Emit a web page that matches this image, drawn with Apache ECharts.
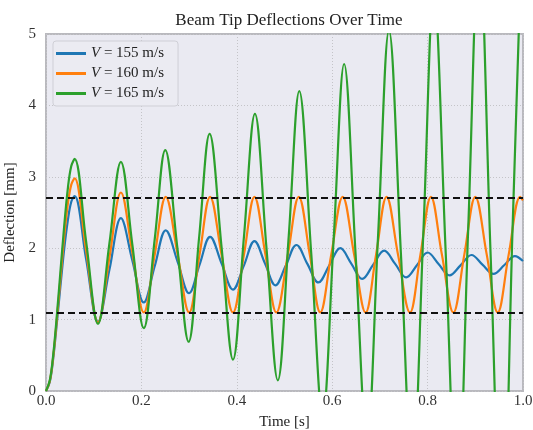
<!DOCTYPE html>
<html>
<head>
<meta charset="utf-8">
<script src="https://cdn.jsdelivr.net/npm/echarts@6/dist/echarts.min.js"></script>
<style>
  html, body { margin: 0; padding: 0; background: #fff; }
  #chart { width: 533px; height: 430px; }
</style>
</head>
<body>
<div id="chart"></div>
<script>
// values: [time s, deflection mm]
var seriesNames = ['V = 155 m/s', 'V = 160 m/s', 'V = 165 m/s'];
var seriesColors = ['#1f77b4', '#ff7f0e', '#2ca02c'];

var v155 = [
  [0, 0], [0.008, 0.13], [0.015, 0.45], [0.022, 0.9], [0.030, 1.45], [0.038, 1.98],
  [0.046, 2.4], [0.053, 2.65], [0.060, 2.73], [0.084, 1.85], [0.109, 0.97],
  [0.133, 1.70], [0.157, 2.42], [0.181, 1.83], [0.205, 1.24], [0.228, 1.75],
  [0.251, 2.25], [0.276, 1.81], [0.300, 1.37], [0.322, 1.77], [0.344, 2.16],
  [0.368, 1.79], [0.392, 1.42], [0.415, 1.76], [0.437, 2.10], [0.459, 1.79],
  [0.481, 1.48], [0.503, 1.76], [0.525, 2.045], [0.548, 1.78], [0.571, 1.52],
  [0.594, 1.76], [0.617, 2.00], [0.640, 1.785], [0.663, 1.57], [0.686, 1.77],
  [0.709, 1.965], [0.732, 1.78], [0.755, 1.59], [0.778, 1.765], [0.800, 1.94],
  [0.823, 1.78], [0.846, 1.62], [0.869, 1.76], [0.892, 1.905], [0.915, 1.77],
  [0.938, 1.64], [0.961, 1.765], [0.983, 1.89], [1.000, 1.82]
];

var v160 = [
  [0, 0], [0.008, 0.14], [0.015, 0.47], [0.022, 0.95], [0.030, 1.55], [0.038, 2.15],
  [0.046, 2.63], [0.053, 2.89], [0.060, 2.98], [0.084, 1.97], [0.109, 0.96],
  [0.133, 1.87], [0.157, 2.78], [0.181, 1.94], [0.205, 1.10], [0.228, 1.91],
  [0.251, 2.72], [0.276, 1.91], [0.300, 1.10], [0.322, 1.91], [0.344, 2.72],
  [0.368, 1.91], [0.392, 1.10], [0.415, 1.91], [0.437, 2.72], [0.460, 1.91],
  [0.483, 1.10], [0.507, 1.91], [0.530, 2.72], [0.553, 1.91], [0.575, 1.10],
  [0.598, 1.91], [0.622, 2.72], [0.646, 1.91], [0.670, 1.10], [0.692, 1.91],
  [0.714, 2.72], [0.738, 1.91], [0.763, 1.10], [0.785, 1.91], [0.807, 2.72],
  [0.830, 1.91], [0.854, 1.10], [0.877, 1.91], [0.900, 2.72], [0.924, 1.91],
  [0.947, 1.10], [0.970, 1.91], [0.994, 2.72], [1.000, 2.67]
];

var v165 = [
  [0, 0], [0.008, 0.15], [0.015, 0.5], [0.022, 1.0], [0.030, 1.65], [0.038, 2.3],
  [0.046, 2.85], [0.053, 3.15], [0.060, 3.25], [0.084, 2.10], [0.109, 0.94],
  [0.133, 2.07], [0.157, 3.21], [0.181, 2.05], [0.205, 0.88], [0.228, 2.13],
  [0.250, 3.375], [0.275, 2.03], [0.299, 0.69], [0.321, 2.15], [0.343, 3.60],
  [0.368, 2.02], [0.392, 0.44], [0.415, 2.16], [0.438, 3.88], [0.462, 2.02],
  [0.486, 0.15], [0.509, 2.18], [0.531, 4.20], [0.556, 1.93], [0.580, -0.35],
  [0.603, 2.12], [0.625, 4.58], [0.649, 1.92], [0.673, -0.75], [0.696, 2.15],
  [0.719, 5.05], [0.744, 1.93], [0.768, -1.20], [0.791, 2.20], [0.813, 5.60],
  [0.838, 1.93], [0.862, -1.75], [0.885, 2.25], [0.908, 6.25], [0.932, 1.93],
  [0.956, -2.40], [0.978, 2.25], [1.000, 6.9]
];

var limitLines = [2.7, 1.1];

var fontFamily = '"Liberation Serif", "DejaVu Serif", serif';

var chart = echarts.init(document.getElementById('chart'));

var allData = [v155, v160, v165];
var series = seriesNames.map(function (name, i) {
  return {
    name: name,
    type: 'line',
    data: allData[i],
    smooth: 0.38,
    showSymbol: false,
    symbol: 'none',
    clip: true,
    lineStyle: { color: seriesColors[i], width: 2.2 },
    itemStyle: { color: seriesColors[i] },
    z: 2 + i
  };
});

// black dashed limits
series[2].markLine = {
  silent: true,
  symbol: 'none',
  label: { show: false },
  lineStyle: { color: '#111', width: 2, type: [7, 4] },
  data: limitLines.map(function (v) { return { yAxis: v }; })
};

var option = {
  backgroundColor: '#ffffff',
  animation: false,
  title: {
    text: 'Beam Tip Deflections Over Time',
    left: 284,
    textAlign: 'center',
    top: 7,
    textStyle: { fontFamily: fontFamily, fontWeight: 'normal', fontSize: 17, color: '#222' }
  },
  legend: {
    orient: 'vertical',
    left: 53,
    top: 41,
    padding: [5, 14, 5, 3],
    itemGap: 5,
    itemWidth: 30,
    itemHeight: 3,
    icon: 'rect',
    backgroundColor: '#ebebf2',
    borderColor: '#cfcfd6',
    borderWidth: 1,
    borderRadius: 3,
    data: seriesNames,
    formatter: function (name) {
      return '{i|V}' + name.substring(1);
    },
    textStyle: {
      fontFamily: fontFamily,
      fontSize: 15,
      color: '#222',
      rich: {
        i: { fontFamily: fontFamily, fontStyle: 'italic', fontSize: 15, color: '#222' }
      }
    }
  },
  grid: {
    left: 46,
    right: 10,
    top: 34,
    bottom: 39,
    containLabel: false,
    outerBoundsMode: 'none',
    show: true,
    backgroundColor: '#eaeaf2',
    borderColor: '#b9b9be',
    borderWidth: 2
  },
  xAxis: {
    type: 'value',
    min: 0,
    max: 1,
    interval: 0.2,
    name: 'Time [s]',
    nameLocation: 'middle',
    nameGap: 24,
    nameTextStyle: { fontFamily: fontFamily, fontSize: 15, color: '#222' },
    axisLine: { show: false },
    axisTick: { show: false },
    axisLabel: {
      fontFamily: fontFamily, fontSize: 15, color: '#333', margin: 3,
      formatter: function (v) { return v.toFixed(1); }
    },
    splitLine: { show: true, lineStyle: { color: '#c4c4c8', type: [1, 2], width: 1 } }
  },
  yAxis: {
    type: 'value',
    min: 0,
    max: 5,
    interval: 1,
    name: 'Deflection [mm]',
    nameLocation: 'middle',
    nameGap: 28,
    nameTextStyle: { fontFamily: fontFamily, fontSize: 15, color: '#222' },
    axisLine: { show: false },
    axisTick: { show: false },
    axisLabel: { fontFamily: fontFamily, fontSize: 15, color: '#333', margin: 10 },
    splitLine: { show: true, lineStyle: { color: '#c4c4c8', type: [1, 2], width: 1 } }
  },
  series: series
};

chart.setOption(option);
</script>
</body>
</html>
